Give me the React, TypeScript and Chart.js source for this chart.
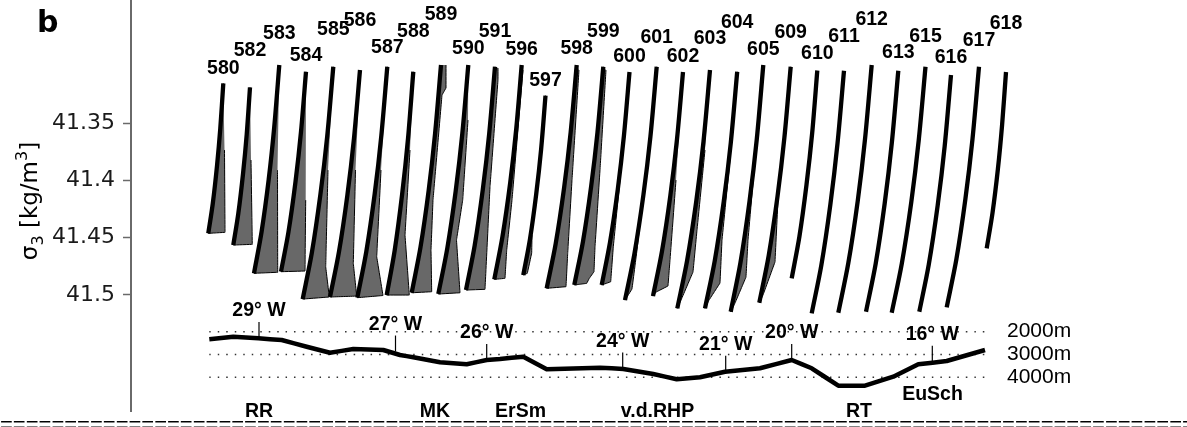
import React, { useEffect, useRef } from 'react';
import { Chart, registerables } from 'chart.js';

Chart.register(...registerables);

// ---------- data ----------
const STATIONS = ['580', '582', '583', '584', '585', '586', '587', '588', '589', '590', '591', '596', '597', '598', '599', '600', '601', '602', '603', '604', '605', '609', '610', '611', '612', '613', '615', '616', '617', '618'];

// thick profile line per station (offset units, top -> bottom)
const PROFILE_X: number[][] = [
  [92.3, 89.3, 86.0, 81.8, 77.3],
  [119, 115.7, 112.0, 107.3, 102.3],
  [148.3, 143.2, 137.7, 130.6, 123],
  [175, 170, 164.5, 157.5, 150],
  [202.3, 196.2, 189.4, 180.9, 171.7],
  [229, 223, 216.4, 208, 199],
  [256.3, 250.3, 243.7, 235.3, 226.3],
  [282.3, 277, 271.1, 263.7, 255.7],
  [310, 304.1, 297.7, 289.5, 280.7],
  [337.3, 331.3, 324.7, 316.3, 307.3],
  [364, 358.2, 351.8, 343.7, 335],
  [390.7, 385.2, 379.2, 371.5, 363.3],
  [414.5, 410.1, 405.2, 399, 392.3],
  [445.7, 439.7, 433.1, 424.7, 415.7],
  [472.3, 466.5, 460.1, 452, 443.3],
  [498.5, 492.9, 486.8, 479, 470.7],
  [525.7, 519.4, 512.4, 503.5, 494],
  [552, 546, 539.4, 531, 522],
  [579, 572.5, 565.3, 556.1, 546.3],
  [606.2, 599.8, 592.7, 583.7, 574],
  [632.3, 625.8, 618.6, 609.5, 599.7],
  [659.7, 653.4, 646.5, 637.7, 628.3],
  [686.3, 681.2, 675.5, 668.4, 660.7],
  [713, 706.5, 699.4, 690.4, 680.7],
  [740.7, 734, 726.7, 717.3, 707.3],
  [767.3, 760.8, 753.7, 744.7, 735],
  [794.5, 787.7, 780.3, 770.8, 760.7],
  [820, 813.7, 806.7, 797.8, 788.3],
  [848, 841.5, 834.4, 825.4, 815.7],
  [875, 871.1, 866.9, 861.5, 855.7],
];

const PROFILE_SIGMA: number[][] = [
  [41.3151, 41.3544, 41.3872, 41.42, 41.4462],
  [41.3186, 41.3599, 41.3943, 41.4289, 41.4564],
  [41.2991, 41.3537, 41.3992, 41.4447, 41.4811],
  [41.305, 41.3574, 41.4011, 41.4448, 41.4797],
  [41.3006, 41.3615, 41.4123, 41.4629, 41.5036],
  [41.3035, 41.363, 41.4126, 41.4622, 41.5018],
  [41.3006, 41.3611, 41.4117, 41.4621, 41.5024],
  [41.305, 41.3635, 41.4123, 41.461, 41.5001],
  [41.2991, 41.3588, 41.4085, 41.4583, 41.4981],
  [41.2991, 41.3591, 41.4092, 41.4592, 41.4992],
  [41.3006, 41.3591, 41.4079, 41.4567, 41.4957],
  [41.2991, 41.3553, 41.4021, 41.4489, 41.4864],
  [41.3258, 41.3729, 41.412, 41.4512, 41.4826],
  [41.2991, 41.3576, 41.4064, 41.4552, 41.4942],
  [41.3006, 41.3578, 41.4055, 41.4532, 41.4913],
  [41.3052, 41.3611, 41.4076, 41.4541, 41.4913],
  [41.3006, 41.3618, 41.4127, 41.4636, 41.5045],
  [41.3052, 41.3639, 41.4129, 41.4618, 41.501],
  [41.3035, 41.366, 41.418, 41.47, 41.5117],
  [41.305, 41.367, 41.4186, 41.4704, 41.5117],
  [41.2991, 41.3638, 41.4177, 41.4716, 41.5147],
  [41.3006, 41.3625, 41.414, 41.4656, 41.5068],
  [41.3039, 41.3583, 41.4038, 41.4491, 41.4855],
  [41.3041, 41.3677, 41.4207, 41.4737, 41.5161],
  [41.2991, 41.364, 41.4181, 41.4723, 41.5156],
  [41.3041, 41.3673, 41.42, 41.4726, 41.5147],
  [41.3006, 41.3651, 41.4188, 41.4726, 41.5156],
  [41.3078, 41.3699, 41.4216, 41.4733, 41.5147],
  [41.3006, 41.3637, 41.4162, 41.4688, 41.5108],
  [41.3052, 41.3514, 41.39, 41.4284, 41.4593],
];

// right boundary of shaded area (bottom -> top)
const SHADE_X: number[][] = [
  [94, 93.5],
  [121.3, 120],
  [146.7, 146.5],
  [174, 174.7],
  [198.3, 194.7, 197],
  [225.7, 222.3, 224.5],
  [252, 245.7, 250],
  [278.3, 274, 279],
  [300.7, 300, 302, 311, 315, 315],
  [329, 325.5, 331.7, 337],
  [354, 359, 367, 367],
  [374, 375.7, 381, 392],
  [396.3, 400.7, 401],
  [435, 436.7, 441, 448],
  [455.7, 458.3, 463, 464, 469, 475],
  [479.7, 482.3, 489],
  [501, 506, 515],
  [525, 537, 539, 545],
  [550, 562, 566, 574],
  [578, 589, 591, 599],
  [604, 615, 617, 624],
  [632, 644, 647],
  [], [], [], [], [], [], [], [],
];

const SHADE_SIGMA: number[][] = [
  [41.4453, 41.3734],
  [41.4558, 41.3821],
  [41.4802, 41.3909],
  [41.4791, 41.4171],
  [41.5018, 41.4754, 41.3909],
  [41.501, 41.4724, 41.3909],
  [41.5005, 41.4666, 41.3909],
  [41.5001, 41.4477, 41.3734],
  [41.4972, 41.4608, 41.4171, 41.3253, 41.3192, 41.2991],
  [41.4981, 41.452, 41.4171, 41.3472],
  [41.4951, 41.4054, 41.3122, 41.3017],
  [41.4855, 41.4608, 41.4171, 41.3035],
  [41.4811, 41.4634, 41.4477],
  [41.4928, 41.4636, 41.3996, 41.3035],
  [41.4899, 41.4855, 41.4797, 41.4579, 41.3909, 41.3035],
  [41.4885, 41.4579, 41.3996],
  [41.4948, 41.4608, 41.3909],
  [41.4975, 41.4922, 41.4695, 41.3996],
  [41.5045, 41.48, 41.4433, 41.3734],
  [41.5045, 41.4896, 41.452, 41.3821],
  [41.5071, 41.4844, 41.452, 41.3821],
  [41.5001, 41.4712, 41.4171],
  [], [], [], [], [], [], [], [],
];

const SIGMA_TICKS = [41.35, 41.4, 41.45, 41.5];
const SIGMA_TICK_LABELS = ['41.35', '41.4', '41.45', '41.5'];

// bathymetry along section
const BATHY_X = [78.3, 102.3, 127.3, 150.7, 175.7, 199, 222.3, 252.3, 269, 282.3, 309, 335.7, 355.7, 369, 392.3, 415.7, 469, 492.3, 522.3, 545.7, 569, 594, 629, 660.7, 680.7, 707.3, 734, 762.3, 787.3, 815.7, 854];
const BATHY_DEPTH = [2333, 2219, 2289, 2364, 2658, 2921, 2759, 2803, 3022, 3123, 3342, 3430, 3241, 3197, 3097, 3649, 3579, 3636, 3855, 4088, 4000, 3754, 3605, 3241, 3605, 4368, 4368, 3974, 3430, 3285, 2803];

const DEPTH_LEVELS = [2000, 3000, 4000];
const DEPTH_LABELS = ['2000m', '3000m', '4000m'];

const LON_LABELS = ['29° W', '27° W', '26° W', '24° W', '21° W', '20° W', '16° W'];
const LON_X = [128, 264.5, 355.7, 491.7, 594.7, 660.7, 801.3];
const LON_DEPTH = [2276, 2868, 3241, 3614, 3754, 3241, 3316];

const FEATURE_LABELS = ['RR', 'MK', 'ErSm', 'v.d.RHP', 'RT', 'EuSch'];
const FEATURE_X = [128, 304, 389.5, 526.5, 728, 801.5];
const FEATURE_DEPTH = [5522, 5522, 5522, 5522, 5522, 4776];

// ---------- layout ----------
const W = 1187;
const H = 427;
const LABEL_LIFT = [15, 37, 31, 16, 37, 49, 19, 40, 50, 16, 35, 15, 15, 16, 35, 15, 29, 15, 31, 49, 15, 34, 16.5, 34, 45, 18, 30, 17, 26, 48];
const TICK_M = 700;

const textPlugin = {
  id: 'figureText',
  afterDraw(chart: any) {
    const { ctx } = chart;
    const xs = chart.scales.x;
    const ys = chart.scales.y;
    const yd = chart.scales.yd;
    ctx.save();
    ctx.fillStyle = '#000';

    // panel letter
    ctx.font = 'bold 30px "DejaVu Sans"';
    ctx.textAlign = 'left';
    ctx.textBaseline = 'alphabetic';
    ctx.fillText('b', 37, 32);

    // station labels
    ctx.font = 'bold 19.5px "Liberation Sans"';
    ctx.textAlign = 'center';
    ctx.textBaseline = 'middle';
    STATIONS.forEach((s, i) => {
      const x = xs.getPixelForValue(PROFILE_X[i][0]);
      const y = ys.getPixelForValue(PROFILE_SIGMA[i][0]) - LABEL_LIFT[i];
      ctx.fillText(s, x, y);
    });

    // longitude labels
    LON_LABELS.forEach((t, i) => {
      const x = xs.getPixelForValue(LON_X[i]);
      const y = yd.getPixelForValue(LON_DEPTH[i] - TICK_M) - 11;
      ctx.fillText(t, x, y);
    });

    // features
    FEATURE_LABELS.forEach((t, i) => {
      ctx.fillText(t, xs.getPixelForValue(FEATURE_X[i]), yd.getPixelForValue(FEATURE_DEPTH[i]));
    });

    // depth labels
    ctx.font = '21px "Liberation Sans"';
    ctx.textAlign = 'left';
    const xEnd = xs.getPixelForValue(BATHY_X[BATHY_X.length - 1]);
    DEPTH_LEVELS.forEach((d, i) => {
      ctx.fillText(DEPTH_LABELS[i], xEnd + 22, yd.getPixelForValue(d));
    });

    // separator row
    ctx.font = '22px "Liberation Sans"';
    ctx.textBaseline = 'alphabetic';
    ctx.fillText('='.repeat(95), 0, 432);

    // y-axis title
    ctx.translate(37, 201);
    ctx.rotate(-Math.PI / 2);
    const parts = [
      { t: 'σ', s: 23, dy: 0 },
      { t: '3', s: 16, dy: 6 },
      { t: ' [kg/m', s: 23, dy: 0 },
      { t: '3', s: 16, dy: -10 },
      { t: ']', s: 23, dy: 0 },
    ];
    let total = 0;
    parts.forEach((p) => {
      ctx.font = `${p.s}px "DejaVu Sans"`;
      total += ctx.measureText(p.t).width;
    });
    let cx = -total / 2;
    parts.forEach((p) => {
      ctx.font = `${p.s}px "DejaVu Sans"`;
      ctx.fillText(p.t, cx, p.dy);
      cx += ctx.measureText(p.t).width;
    });
    ctx.restore();
  },
};

export default function App() {
  const ref = useRef<HTMLCanvasElement | null>(null);

  useEffect(() => {
    document.body.style.margin = '0';
    const canvas = ref.current;
    if (!canvas) return;

    const datasets: any[] = [];
    STATIONS.forEach((s, i) => {
      const thick = PROFILE_X[i].map((x, k) => ({ x, y: PROFILE_SIGMA[i][k] }));
      datasets.push({
        label: s,
        data: thick,
        yAxisID: 'y',
        borderColor: '#000',
        borderWidth: 4.3,
        tension: 0.3,
        fill: false,
        order: 0,
      });
      if (SHADE_X[i].length) {
        const shade = thick.concat(SHADE_X[i].map((x, k) => ({ x, y: SHADE_SIGMA[i][k] })));
        datasets.push({
          label: s + ' shade',
          data: shade,
          yAxisID: 'y',
          borderColor: '#000',
          borderWidth: 1,
          backgroundColor: '#686868',
          fill: 'shape',
          tension: 0.0001,
          order: 1,
        });
      }
    });

    DEPTH_LEVELS.forEach((d) => {
      datasets.push({
        label: d + 'm',
        data: [
          { x: BATHY_X[0], y: d },
          { x: BATHY_X[BATHY_X.length - 1], y: d },
        ],
        yAxisID: 'yd',
        borderColor: '#333',
        borderWidth: 1.5,
        borderDash: [1.5, 7],
        fill: false,
        order: 3,
      });
    });

    datasets.push({
      label: 'bathymetry',
      data: BATHY_X.map((x, k) => ({ x, y: BATHY_DEPTH[k] })),
      yAxisID: 'yd',
      borderColor: '#000',
      borderWidth: 4.5,
      borderJoinStyle: 'round',
      fill: false,
      order: 2,
    });

    LON_X.forEach((x, k) => {
      datasets.push({
        label: LON_LABELS[k],
        data: [
          { x, y: LON_DEPTH[k] },
          { x, y: LON_DEPTH[k] - TICK_M },
        ],
        yAxisID: 'yd',
        borderColor: '#000',
        borderWidth: 1.2,
        fill: false,
        order: 2,
      });
    });

    const chart = new Chart(canvas, {
      type: 'line',
      data: { datasets },
      plugins: [textPlugin],
      options: {
        responsive: false,
        animation: false,
        devicePixelRatio: 1,
        events: [],
        layout: { padding: { top: 0, left: 0, right: 0, bottom: 16 } },
        elements: {
          point: { radius: 0, hoverRadius: 0 },
          line: { tension: 0.0001 },
        },
        plugins: {
          legend: { display: false },
          tooltip: { enabled: false },
        },
        scales: {
          x: { type: 'linear', min: 0, max: 1056, display: false },
          y: {
            type: 'linear',
            position: 'left',
            reverse: true,
            min: 41.2423,
            max: 41.6014,
            afterBuildTicks: (scale: any) => {
              scale.ticks = SIGMA_TICKS.map((value) => ({ value }));
            },
            afterFit: (scale: any) => {
              scale.width = 131;
              scale.paddingTop = 0;
              scale.paddingBottom = 0;
            },
            ticks: {
              autoSkip: false,
              padding: 8,
              color: '#1a1a1a',
              font: { family: 'DejaVu Sans', size: 22 },
              callback: (_v: any, index: number) => SIGMA_TICK_LABELS[index],
            },
            grid: {
              drawOnChartArea: false,
              drawTicks: true,
              tickLength: 8,
              tickWidth: 1.5,
              tickColor: '#6a6a6a',
            },
            border: { display: true, color: '#6a6a6a', width: 2 },
          },
          yd: {
            type: 'linear',
            position: 'right',
            display: false,
            reverse: true,
            min: -12548,
            max: 5478,
          },
        },
      } as any,
    });

    return () => chart.destroy();
  }, []);

  return (
    <canvas
      ref={ref}
      width={W}
      height={H}
      style={{ display: 'block', position: 'absolute', left: 0, top: 0, width: W, height: H }}
    />
  );
}
